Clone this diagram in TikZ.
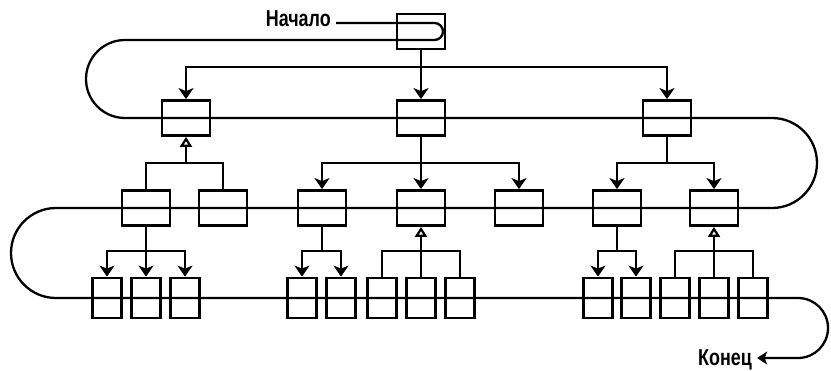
\documentclass[tikz,border=0pt]{standalone}
\usepackage{fontspec}
\newfontfamily\lblfont{Liberation Sans}[FakeStretch=0.78]
\usetikzlibrary{arrows.meta}

\begin{document}
\begin{tikzpicture}[x=1pt, y=-1pt,
		blk/.style={draw, line width=2.8pt, minimum width=48pt, minimum height=35pt, inner sep=0pt},
		leaf/.style={draw, line width=2.8pt, minimum width=29pt, minimum height=40pt, inner sep=0pt},
		lnk/.style={line width=2.7pt},
		arr/.style={lnk, -{Stealth[length=11pt, width=15pt, inset=3pt]}},
		agg/.style={lnk, -{Triangle[open, length=10pt, width=12pt, line width=2.2pt]}},
		ring/.style={line width=2.3pt, line join=round, -{Stealth[length=10pt, width=13pt, inset=2.5pt]}},
		lbl/.style={font=\lblfont\bfseries\fontsize{23}{23}\selectfont, inner sep=5pt, text depth=0pt}]
		\useasboundingbox (0,0) rectangle (831,370);

		% 根と一段目
		\node[blk] (R) at (421,31.5) {};
		\node[blk] (A) at (186,118) {};
		\node[blk] (B) at (421,118) {};
		\node[blk] (C) at (667,118) {};

		% 二段目
		\node[blk] (A1) at (146,208) {};
		\node[blk] (A2) at (223,208) {};
		\node[blk] (B1) at (322,208) {};
		\node[blk] (B2) at (421,208) {};
		\node[blk] (B3) at (519,208) {};
		\node[blk] (C1) at (617,208) {};
		\node[blk] (C2) at (714,208) {};

		% 三段目
		\node[leaf] (A11) at (107,298) {};
		\node[leaf] (A12) at (146,298) {};
		\node[leaf] (A13) at (185,298) {};
		\node[leaf] (B11) at (302,298) {};
		\node[leaf] (B12) at (341,298) {};
		\node[leaf] (B21) at (382,298) {};
		\node[leaf] (B22) at (421,298) {};
		\node[leaf] (B23) at (460,298) {};
		\node[leaf] (C11) at (598,298) {};
		\node[leaf] (C12) at (636,298) {};
		\node[leaf] (C21) at (675,298) {};
		\node[leaf] (C22) at (714,298) {};
		\node[leaf] (C23) at (753,298) {};

		% 分岐点
		\coordinate (j) at (421,67);
		\coordinate (ja) at (186,163);
		\coordinate (jb) at (421,163);
		\coordinate (jc) at (667,163);
		\coordinate (ja1) at (146,251);
		\coordinate (jb1) at (322,251);
		\coordinate (jb2) at (421,251);
		\coordinate (jc1) at (617,251);
		\coordinate (jc2) at (714,251);

		\draw[arr] (R.south) -- (B.north);
		\draw[arr] (j) -| (A.north);
		\draw[arr] (j) -| (C.north);

		\draw[lnk] (A1.north) |- (ja) -| (A2.north);
		\draw[agg] (ja) -- (A.south);
		\draw[lnk] (B.south) -- (jb);
		\draw[arr] (jb) -| (B1.north);
		\draw[arr] (jb) -| (B3.north);
		\draw[arr] (jb) -- (B2.north);
		\draw[lnk] (C.south) -- (jc);
		\draw[arr] (jc) -| (C1.north);
		\draw[arr] (jc) -| (C2.north);

		\draw[lnk] (A1.south) -- (ja1);
		\draw[arr] (ja1) -| (A11.north);
		\draw[arr] (ja1) -| (A13.north);
		\draw[arr] (ja1) -- (A12.north);
		\draw[lnk] (B1.south) -- (jb1);
		\draw[arr] (jb1) -| (B11.north);
		\draw[arr] (jb1) -| (B12.north);
		\draw[lnk] (B21.north) |- (jb2) -| (B23.north);
		\draw[lnk] (B22.north) -- (jb2);
		\draw[agg] (jb2) -- (B2.south);
		\draw[lnk] (C1.south) -- (jc1);
		\draw[arr] (jc1) -| (C11.north);
		\draw[arr] (jc1) -| (C12.north);
		\draw[lnk] (C21.north) |- (jc2) -| (C23.north);
		\draw[lnk] (C22.north) -- (jc2);
		\draw[agg] (jc2) -- (C2.south);

		% 始めと終わり
		\node[lbl, anchor=east] (st) at (336,18.5) {Начало};
		\node[lbl, anchor=west] (en) at (693,358) {Конец};

		\draw[ring] ([yshift=-4.5pt]st.east) -- (434.5,23) arc[start angle=90, end angle=-90, radius=8.5pt]
			-- (125,40) arc[start angle=90, end angle=270, radius=39pt]
			-- (772,118) arc[start angle=90, end angle=-90, radius=45pt]
			-- (56,208) arc[start angle=90, end angle=270, radius=45pt]
			-- (798,298) arc[start angle=90, end angle=-90, radius=30pt]
			-- (en.east);
	\end{tikzpicture}
\end{document}
